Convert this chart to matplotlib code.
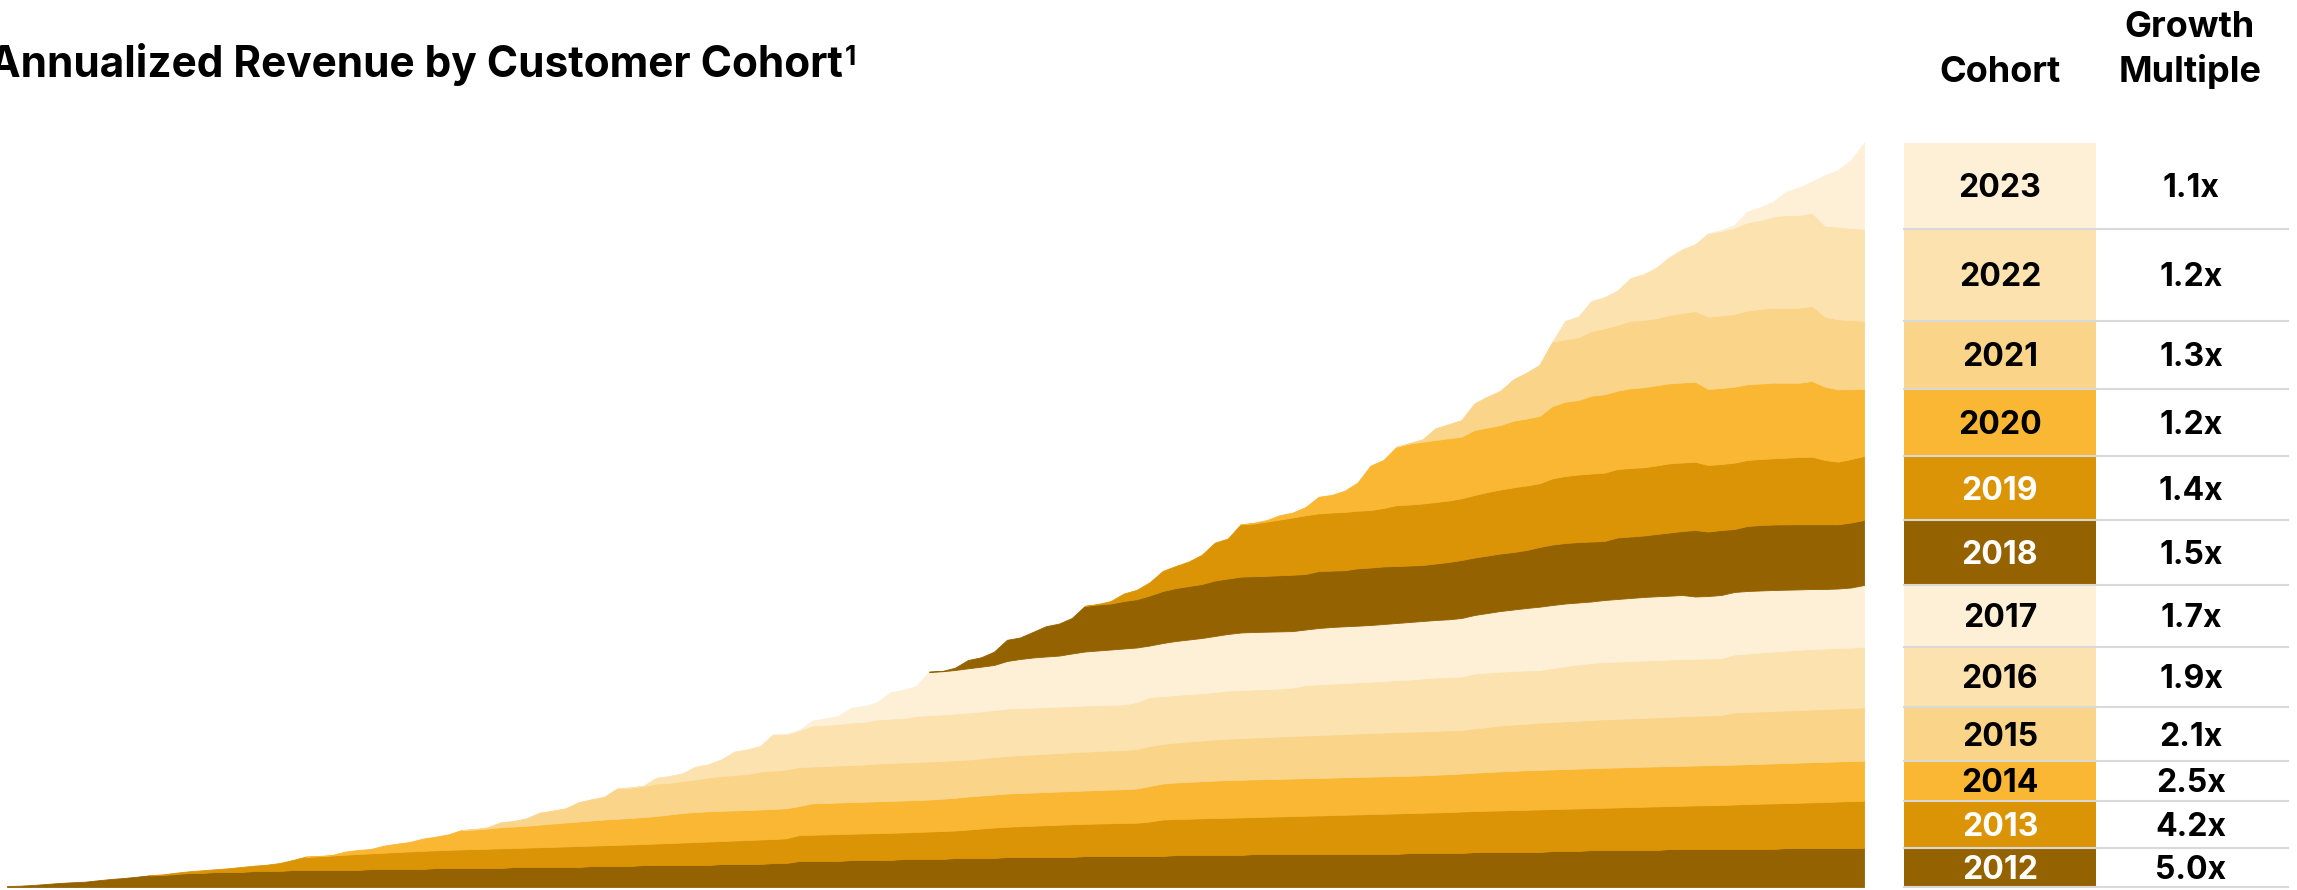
import matplotlib
matplotlib.use("Agg")
import matplotlib.pyplot as plt
import numpy as np

plt.rcParams['font.family'] = ['Inter', 'DejaVu Sans']

# annualized revenue per cohort, one value per month
# from January of the cohort year up to December 2023
rev_2012 = [1, 1.3, 2, 3, 4, 4.7, 5.3, 6.7, 8, 9, 10.3, 11.7,
            12, 13, 14, 14, 15, 15, 15, 16, 16, 16, 17, 17,
            17, 17, 17, 17, 18, 18, 18, 18, 18, 19, 19, 19,
            19, 19, 19, 20, 20, 20, 20, 20, 20, 21, 21, 21,
            21, 22, 22, 22, 22, 22, 22, 23, 23, 23, 23, 24,
            24, 26, 26, 26, 26, 27, 27, 27, 27, 28, 28, 28,
            28, 29, 29, 29, 29, 30, 30, 30, 30, 30, 30, 31,
            31, 31, 31, 31, 31, 31, 32, 32, 32, 32, 32, 32,
            33, 33, 33, 33, 33, 33, 33, 33, 33, 33, 33, 33,
            34, 34, 34, 34, 34, 35, 35, 35, 35, 35, 35, 36,
            36, 36, 37, 37, 37, 37, 37, 37, 38, 38, 38, 38,
            38, 38, 38, 38, 38, 39, 39, 39, 39, 39, 39, 39]
rev_2013 = [0.7, 1.3, 1.7, 2.7, 2.7, 3.7, 5, 5.3, 6.3, 8, 10, 13.3,
            13.7, 14.5, 15.3, 16, 15.7, 16.3, 17, 17.6, 18.2, 17.7, 18.2, 18.6,
            19, 19.3, 19.7, 19, 19.4, 19.8, 20.2, 20.6, 21, 20.4, 20.8, 21.2,
            21.6, 21, 21.5, 22, 22.5, 23, 23.5, 23, 23.5, 24, 24.5, 24,
            24.7, 26, 26.3, 26.6, 27, 26.3, 26.6, 26.9, 27.2, 26.6, 27, 27.5,
            28, 27.5, 28.5, 29.5, 30.5, 30.3, 30.8, 31.3, 31.8, 32.3, 32.8, 32.2,
            32.5, 32.8, 33, 33.3, 34.5, 36.5, 36, 36.3, 36.7, 37, 37.3, 37.6,
            37, 37.3, 37.6, 38, 38.3, 38.6, 39, 39.3, 39.6, 40, 40.3, 40.6,
            40, 40.3, 40.6, 41, 41.5, 41, 41.3, 41.6, 42, 42.3, 42.6, 42,
            42.3, 42.6, 42, 42.3, 42.6, 43, 43.3, 43.6, 43, 43.3, 43.6, 43.8,
            44, 44.5, 45, 45.3, 45.6, 45, 45.3, 45.7, 46, 46.5, 47, 47.3]
rev_2014 = [0.3, 0.5, 3, 4, 4.3, 7, 8.3, 9.4, 12.1, 13.6, 15.5, 19.4,
            19.5, 20.2, 21, 21.5, 21.9, 22.5, 23.3, 23.9, 24.5, 25.1, 25.7, 26.1,
            26.4, 27, 27.5, 28.5, 29.5, 30, 30.2, 30.2, 30.1, 30, 30, 30,
            30, 29, 31.4, 31.4, 31.5, 31.7, 31.7, 31.8, 31.8, 31.9, 32, 32,
            32.3, 32.7, 33, 33, 33, 33.2, 33.2, 33.2, 33.2, 33.2, 33.2, 33.3,
            33.5, 33.6, 33.8, 34.2, 35.5, 36, 36.5, 36.9, 37.1, 37.4, 37.7, 37.7,
            37.6, 37.6, 37.6, 37.5, 37.5, 37.5, 37.4, 37.5, 37.5, 37.4, 37.4, 37.4,
            37.3, 37.4, 37.6, 37.8, 38, 38.3, 38.7, 39, 39.2, 39.5, 39.6, 39.6,
            39.7, 39.8, 39.8, 39.9, 40, 40, 40, 40, 39.9, 39.9, 39.9, 40,
            40, 39.9, 39.8, 39.9, 40, 40, 40.1, 40.1, 40.2, 40.1, 40, 40]
rev_2015 = [0.5, 1.2, 5, 5.5, 7.4, 12, 12.8, 14.2, 19.2, 21.2, 22.8, 30.4,
            30.3, 31, 32.5, 31.8, 32, 32.5, 33.8, 34.8, 35.4, 36, 38, 38.3,
            38.8, 39, 36.8, 37, 37, 37, 37.2, 37.8, 38, 38, 38, 38,
            37.7, 37.5, 37, 37, 37.5, 37.5, 38, 38, 38.3, 38.5, 38.7, 38.8,
            39, 39.1, 39.2, 39.5, 40, 39.5, 40, 40.3, 40.7, 41.1, 41.3, 41.7,
            41.9, 42.1, 42.3, 42.5, 42.7, 42.9, 43.1, 43.2, 43.4, 43.6, 43.8, 44,
            44, 44, 44, 43.8, 43.5, 44.2, 45, 45.9, 46.3, 46.5, 47.1, 47.4,
            47.7, 47.9, 48.2, 48.5, 48.6, 48.7, 48.9, 49.1, 49.3, 49.5, 49.7, 49.8,
            50, 52.1, 52.2, 52.3, 52.4, 52.5, 52.6, 52.7, 52.8, 52.9, 53, 53.4]
rev_2016 = [0.4, 0.3, 5.8, 6.7, 7.7, 12.8, 13.2, 16.7, 23.3, 24.7, 25.5, 36.4,
            35.3, 36.5, 41, 41, 41.5, 42.5, 42.8, 44, 44.3, 44.5, 46, 46.5,
            46.5, 46.8, 47, 47, 47, 47.5, 47, 47, 46.7, 46.5, 46.3, 46.2,
            46, 45.8, 45.6, 47, 49, 48, 47.5, 47.5, 47.3, 47.5, 48.1, 48,
            48, 48, 48, 48.5, 50.5, 50.7, 50.8, 51, 51.2, 51.3, 51.5, 52,
            52.2, 52.8, 53.3, 53.4, 53.5, 55, 54.5, 53.8, 53.5, 53.2, 52.7, 54,
            55.3, 56.2, 57, 57.3, 57.3, 57.3, 57.3, 57.3, 57.3, 57.3, 57.1, 57,
            56.8, 58, 58.5, 59, 59.5, 60, 60.3, 60.5, 60.5, 60.5, 60.5, 60.6]
rev_2017 = [0.2, 0.5, 4.8, 6.7, 8, 14.8, 15.7, 17.2, 26.4, 28, 30, 43.3,
            43.2, 43.5, 44.2, 44.8, 45, 47.5, 49, 50, 50.5, 50.9, 52.5, 54,
            54.5, 55.2, 55.9, 54.5, 51.5, 53, 54, 54.5, 55.2, 56, 56.6, 57.5,
            57.5, 57.3, 57.1, 56.4, 55.5, 56.3, 56.7, 56.7, 56.6, 56.7, 57, 57,
            57.5, 57.5, 57.5, 57.7, 58.5, 58.5, 59.5, 60.7, 61.5, 62.5, 63.3, 63,
            62.5, 62, 61.5, 62, 62.5, 63, 63.5, 63.7, 63.8, 64, 62.2, 62.4,
            63.2, 62.5, 62.5, 62, 61.5, 60.8, 60.3, 60, 59.5, 59.5, 60, 61.7]
rev_2018 = [0.3, 2.3, 8.3, 9.4, 13.3, 21.2, 21.5, 25.6, 30.3, 32, 35.5, 45.6,
            46, 46, 47.5, 48.3, 50.1, 52, 53, 53.5, 54, 55.5, 55.5, 55.9,
            55.8, 55.9, 56.2, 56.4, 55.5, 57, 56.4, 56.1, 57.4, 57.5, 57.6, 57,
            56.5, 56, 56.5, 57.3, 58, 57.5, 57.5, 57.5, 57.5, 58, 59.7, 60.5,
            60.5, 60.5, 60, 59, 61.5, 61.5, 61.5, 62.3, 63.2, 64, 66.5, 64.5,
            65, 63, 65, 65.5, 65.5, 65.4, 65.1, 64.7, 64.7, 64.2, 65, 65]
rev_2019 = [0.5, 2.5, 7.5, 9.4, 13.2, 20.1, 22, 24.5, 29.2, 37.8, 39.9, 52.3,
            52.7, 54.3, 55.7, 57.2, 58.8, 57.6, 58.1, 58.3, 57.6, 57.5, 58.4, 60.9,
            61, 61.5, 61.5, 61.5, 61.7, 62.5, 63.5, 64, 64.7, 64.5, 63.7, 66.2,
            67, 67.5, 68, 68.3, 68.5, 68.5, 68.2, 68.5, 69.2, 68.5, 68.3, 66.5,
            66, 66.3, 66, 66, 66.2, 66.6, 67.3, 67.6, 64.3, 62.6, 63.5, 64]
rev_2020 = [0.7, 1.4, 4.3, 4.9, 8.2, 16.6, 17.6, 21.1, 28.2, 44.4, 48.1, 58.3,
            61, 61.8, 62, 62.2, 61.6, 65, 64.5, 64.5, 66.6, 67, 67.3, 72.3,
            74.3, 74.5, 77.8, 78.4, 78.3, 79.7, 80, 80.2, 80, 80, 80, 76,
            76, 76, 75.7, 75.5, 75.6, 75, 74.3, 75.7, 73.3, 72.4, 69.8, 67]
rev_2021 = [0.5, 2.4, 11.7, 14, 16.7, 26.7, 30.8, 34.3, 41.4, 45.8, 51, 64.3,
            62.4, 62.7, 64.7, 66, 65.7, 67.6, 67.3, 67, 68.3, 69.5, 70.7, 72.3,
            72.5, 72.7, 73.6, 74.5, 75, 75, 75, 75, 70, 70, 69.2, 68.3]
rev_2022 = [18.6, 20.6, 30, 31, 34.3, 42.4, 45.7, 50.6, 57.7, 63.7, 66.7, 83.4,
            84.5, 86.3, 88.4, 89, 91, 92.7, 92.7, 93.3, 91, 92.6, 92, 92]
rev_2023 = [1, 2.7, 10.6, 12.7, 15, 23.3, 27.7, 31, 50.7, 56.7, 68, 86]

cohorts = [2012, 2013, 2014, 2015, 2016, 2017, 2018, 2019, 2020, 2021, 2022, 2023]
multiples = ["5.0x", "4.2x", "2.5x", "2.1x", "1.9x", "1.7x",
             "1.5x", "1.4x", "1.2x", "1.3x", "1.2x", "1.1x"]

series = [rev_2012, rev_2013, rev_2014, rev_2015, rev_2016, rev_2017,
          rev_2018, rev_2019, rev_2020, rev_2021, rev_2022, rev_2023]

palette = ["#946300", "#DB9406", "#F9B733", "#FAD489", "#FCE2AF", "#FEF0D7"]
text_on = ["white", "white", "black", "black", "black", "black"]

n_months = 144
months = np.arange(n_months)
data = np.zeros((len(series), n_months))
for i, s in enumerate(series):
    data[i, n_months - len(s):] = s
top = data.cumsum(axis=0)
bottom = top - data

W, H = 2297, 890
fig = plt.figure(figsize=(W / 100, H / 100), dpi=100)

# area chart (1 unit = 1 px vertically)
ax = fig.add_axes([7 / W, 3 / H, 1857 / W, 887 / H])
ax.set_xlim(0, n_months - 1)
ax.set_ylim(0, 887)
ax.axis("off")

for i in range(len(series)):
    start = max(n_months - len(series[i]) - 1, 0)
    c = palette[i % 6]
    ax.fill_between(months[start:], bottom[i, start:], top[i, start:],
                    facecolor=c, edgecolor=c, lw=0.6)

# overlay in pixel coordinates for title and table
ov = fig.add_axes([0, 0, 1, 1])
ov.set_xlim(0, W)
ov.set_ylim(H, 0)
ov.axis("off")

title = ov.text(-11, 77, "Annualized Revenue by Customer Cohort", fontsize=30.5,
                fontweight="bold", ha="left", va="baseline")
# footnote mark, placed right after the title
renderer = fig.canvas.get_renderer()
bb = title.get_window_extent(renderer)
x_end = ov.transData.inverted().transform((bb.x1, bb.y0))[0]
ov.text(x_end + 2, 65, "1", fontsize=19, fontweight="bold", ha="left", va="baseline")

ov.text(2000, 82, "Cohort", fontsize=26, fontweight="bold", ha="center", va="baseline")
ov.text(2190, 37, "Growth", fontsize=26, fontweight="bold", ha="center", va="baseline")
ov.text(2190, 82, "Multiple", fontsize=26, fontweight="bold", ha="center", va="baseline")

for i, year in enumerate(cohorts):
    y_top = 887 - top[i, -1]
    y_bot = 887 - bottom[i, -1]
    ov.fill_between([1904, 2096], y_top, y_bot, color=palette[i % 6], lw=0)
    yc = (y_top + y_bot) / 2 + 11.5
    ov.text(2000, yc, str(year), fontsize=23, fontweight="bold",
            color=text_on[i % 6], ha="center", va="baseline")
    ov.text(2191, yc, multiples[i], fontsize=23, fontweight="bold",
            color="black", ha="center", va="baseline")
    ov.plot([1904, 2288], [y_bot, y_bot], color="#D9D9D9", lw=1.5)

fig.savefig("out.png", dpi=100)
